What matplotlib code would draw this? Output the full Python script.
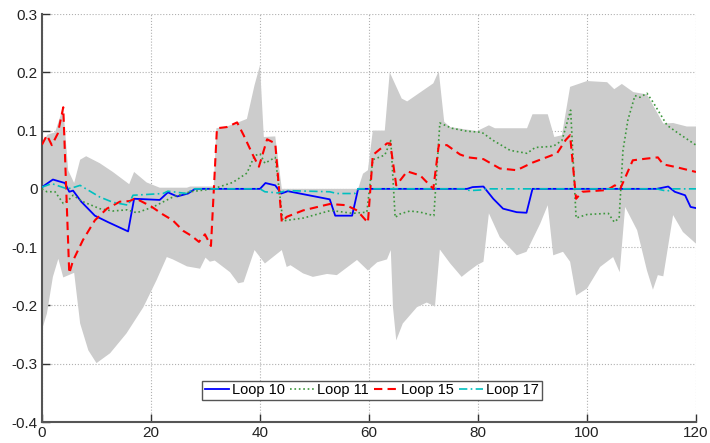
#!/usr/bin/env python

import numpy as np
import matplotlib as mpl
import matplotlib.pyplot as plt

mpl.rc('font', family='Liberation Sans', size=10.5)

# envelope (gray band)
band_up_x = [0, 1, 2.4, 3.9, 4.8, 5.9, 7, 8.1, 10.6, 13, 16, 16.9, 19.2, 21.6, 26.6, 27.2,
             31.5, 32, 33.9, 36, 37.6, 39, 40, 40.7, 42.8, 44, 58, 58.9, 59.8, 60.7,
             62.9, 63.8, 66, 67, 71.8, 72.8, 73.8, 74.9, 77, 79.8, 82, 83.1, 89, 90,
             92.8, 94, 95.4, 96.9, 100, 103.7, 105, 106.4, 108.5, 111, 114, 115.8,
             118.3, 120]
band_up_y = [0.078, 0.093, 0.097, 0.14, 0.032, 0.01, 0.05, 0.056, 0.044, 0.029, 0.008,
             0.029, 0.011, 0.002, 0.002, 0.004, 0.004, 0.104, 0.107, 0.114, 0.12, 0.178,
             0.212, 0.089, 0.09, 0.0, 0.0, 0.026, 0.032, 0.1, 0.1, 0.2, 0.155, 0.15,
             0.181, 0.202, 0.115, 0.106, 0.103, 0.099, 0.109, 0.104, 0.104, 0.128,
             0.128, 0.089, 0.092, 0.175, 0.185, 0.183, 0.171, 0.18, 0.166, 0.162,
             0.112, 0.113, 0.107, 0.107]
band_lo_x = [0, 0.9, 2, 3, 3.9, 5.9, 7, 8.5, 10, 12.5, 15.5, 18.6, 21, 22.9, 24, 26.6,
             29, 30, 30.8, 31.7, 34.5, 36, 37, 39, 40.9, 44, 44.9, 45.6, 47.9, 49.7,
             52.3, 54.1, 57.8, 59.8, 61.5, 63.3, 64, 64.4, 65, 66.2, 68.8, 70.6, 72.1,
             73, 74.9, 77, 78.2, 79.8, 81, 82, 84, 87.1, 88.9, 91.4, 92.8, 93.8, 95.6,
             96.9, 98, 100, 102.4, 104.8, 106, 107, 109.2, 111, 112.1, 113, 114, 115.8,
             117.6, 120]
band_lo_y = [-0.242, -0.214, -0.151, -0.12, -0.152, -0.144, -0.231, -0.277, -0.299,
             -0.282, -0.248, -0.203, -0.157, -0.117, -0.121, -0.133, -0.137, -0.118,
             -0.125, -0.123, -0.143, -0.162, -0.16, -0.105, -0.128, -0.105, -0.134,
             -0.131, -0.145, -0.151, -0.146, -0.148, -0.122, -0.14, -0.126, -0.121,
             -0.105, -0.203, -0.26, -0.231, -0.203, -0.195, -0.202, -0.104, -0.128,
             -0.151, -0.142, -0.131, -0.125, -0.042, -0.083, -0.114, -0.108, -0.06,
             -0.028, -0.114, -0.108, -0.125, -0.183, -0.171, -0.134, -0.117, -0.143,
             -0.031, -0.071, -0.14, -0.173, -0.148, -0.15, -0.045, -0.074, -0.094]

# Loop 10
l10_x = [0, 2, 4.2, 5, 5.7, 7.2, 9.7, 12.1, 15.8, 16.9, 21.6, 23.1, 24.8, 26.8, 28.1,
         40, 41, 42.8, 43.9, 45.1, 52.8, 53.8, 56.9, 58, 78, 79, 81, 82.8, 84.6, 87.1,
         88.9, 90, 112.8, 114.9, 116.1, 118, 119, 120]
l10_y = [0.003, 0.016, 0.01, -0.005, -0.003, -0.022, -0.046, -0.057, -0.073, -0.017,
         -0.019, -0.006, -0.013, -0.008, 0.0, 0.0, 0.01, 0.006, -0.008, -0.004, -0.018,
         -0.046, -0.046, 0.0, 0.0, 0.003, 0.004, -0.017, -0.034, -0.04, -0.041, 0.0,
         0.0, 0.004, -0.005, -0.011, -0.031, -0.033]

# Loop 11
l11_x = [0, 0.9, 2.4, 3.9, 4.8, 5.7, 7.5, 10.6, 13, 15.6, 17.4, 20.4, 24, 27.2, 31.4,
         35, 37.6, 39, 40, 40.9, 42.8, 44.2, 48, 53, 57, 59.6, 60.7, 62.9, 64, 64.8,
         65.7, 67.5, 69.4, 71.9, 73, 75.2, 77.9, 80.7, 82.8, 85.9, 89, 90.5, 93.8,
         95.4, 97, 98, 100, 103.9, 105, 105.9, 106.6, 107.5, 108.8, 109.7, 111, 112.1,
         114.7, 116.5, 120]
l11_y = [0.0, -0.005, -0.005, -0.025, -0.02, -0.011, -0.022, -0.034, -0.038, -0.036,
         -0.041, -0.031, -0.014, -0.005, 0.0, 0.011, 0.027, 0.057, 0.06, 0.044, 0.054,
         -0.055, -0.05, -0.037, -0.042, -0.04, 0.05, 0.058, 0.083, -0.049, -0.043,
         -0.038, -0.04, -0.046, 0.113, 0.104, 0.099, 0.097, 0.083, 0.066, 0.061, 0.071,
         0.073, 0.083, 0.135, -0.05, -0.044, -0.042, -0.057, -0.05, 0.066, 0.118,
         0.16, 0.157, 0.164, 0.149, 0.109, 0.097, 0.075]

# Loop 15
l15_x = [0, 0.9, 1.8, 2.9, 3.9, 5, 5.7, 7.5, 9.7, 11.9, 14.3, 16.1, 17.1, 20, 22.2, 24,
         25.9, 27.5, 28.8, 29.9, 31, 32.1, 33.9, 35.8, 37, 38.7, 39.8, 41.3, 42.8, 44,
         44.9, 47.9, 52.8, 55.8, 57.8, 59.8, 60.7, 63.3, 63.9, 65, 67, 69.4, 71.8, 72.8,
         74.3, 76.7, 78.2, 81, 84, 87.1, 90, 94.5, 96.1, 96.9, 98, 99.1, 103.7, 105.1,
         106.1, 108.4, 111, 113, 114, 116.5, 120]
l15_y = [0.076, 0.092, 0.075, 0.095, 0.14, -0.145, -0.123, -0.088, -0.054, -0.034,
         -0.022, -0.021, -0.016, -0.03, -0.044, -0.054, -0.072, -0.081, -0.091, -0.078,
         -0.098, 0.104, 0.106, 0.114, 0.092, 0.058, 0.038, 0.085, 0.078, -0.057, -0.048,
         -0.037, -0.026, -0.028, -0.037, -0.058, 0.058, 0.078, 0.078, 0.006, 0.03,
         0.023, 0.0, 0.075, 0.075, 0.059, 0.054, 0.051, 0.035, 0.032, 0.045, 0.061,
         0.084, 0.092, -0.017, -0.005, -0.002, 0.006, 0.0, 0.049, 0.052, 0.054, 0.042,
         0.037, 0.029]

# Loop 17
l17_x = [0, 1.8, 4.6, 6, 7, 10.6, 13, 15.8, 16.7, 22.2, 23.1, 26.6, 27.7, 40, 40.9,
         43.3, 44.9, 52.8, 54.1, 57.4, 58, 77.5, 78.5, 80.4, 81.6, 112.8, 114.7, 115.8,
         120]
l17_y = [0.003, 0.009, 0.0, 0.003, 0.006, -0.014, -0.023, -0.028, -0.011, -0.008,
         -0.004, -0.008, 0.0, 0.0, -0.005, -0.007, -0.003, -0.005, -0.008, -0.008, 0.0,
         0.0, -0.003, -0.002, 0.0, 0.0, -0.004, 0.0, 0.0]

xticks = [0, 20, 40, 60, 80, 100, 120]
yticks = [-0.4, -0.3, -0.2, -0.1, 0, 0.1, 0.2, 0.3]
ytick_labels = ['-0.4', '-0.3', '-0.2', '-0.1', '0', '0.1', '0.2', '0.3']


def main() -> None:

    fig = plt.figure(figsize=(7.10, 4.43), dpi=100)
    ax = fig.add_axes([42/710, 21/443, 654/710, 408/443])

    poly_x = band_up_x + band_lo_x[::-1]
    poly_y = band_up_y + band_lo_y[::-1]
    ax.fill(poly_x, poly_y, color='#cccccc', lw=0, zorder=1)

    ax.plot(l10_x, l10_y, ls='-', lw=1.3, color='#0000ff', label='Loop 10', zorder=3)
    ax.plot(l11_x, l11_y, ls=':', lw=1.2, color='#3c963c', label='Loop 11', zorder=3)
    ax.plot(l15_x, l15_y, ls=(0, (4, 2.5)), lw=1.5, color='#ff0000', label='Loop 15', zorder=3)
    ax.plot(l17_x, l17_y, ls=(0, (5, 2, 1, 2)), lw=1.2, color='#00bfbf', label='Loop 17', zorder=3)

    ax.set_xlim(0, 120)
    ax.set_ylim(-0.4, 0.3)
    ax.set_xticks(xticks)
    ax.set_xticklabels([str(t) for t in xticks])
    ax.set_yticks(yticks)
    ax.set_yticklabels(ytick_labels)

    ax.grid(True, ls=':', lw=0.8, color='#b0b0b0', zorder=0)
    ax.set_axisbelow(True)

    for side in ('top', 'right'):
        ax.spines[side].set_visible(False)
    for side in ('left', 'bottom'):
        ax.spines[side].set_color('#555555')
        ax.spines[side].set_linewidth(1.5)

    ax.tick_params(direction='in', length=6, width=1, color='#333333',
                   labelcolor='#222222', pad=3, labelsize=11)

    leg = ax.legend(
        ncol=4,
        loc='lower center',
        bbox_to_anchor=(0.505, 0.053),
        fancybox=False,
        framealpha=1,
        edgecolor='#555555',
        handlelength=1.6,
        handletextpad=0.25,
        columnspacing=0.35,
        borderpad=0.2,
        borderaxespad=0,
    )
    leg.get_frame().set_linewidth(1.0)

    fig.savefig('out.png', dpi=100)

    return


if __name__ == '__main__':
    main()
